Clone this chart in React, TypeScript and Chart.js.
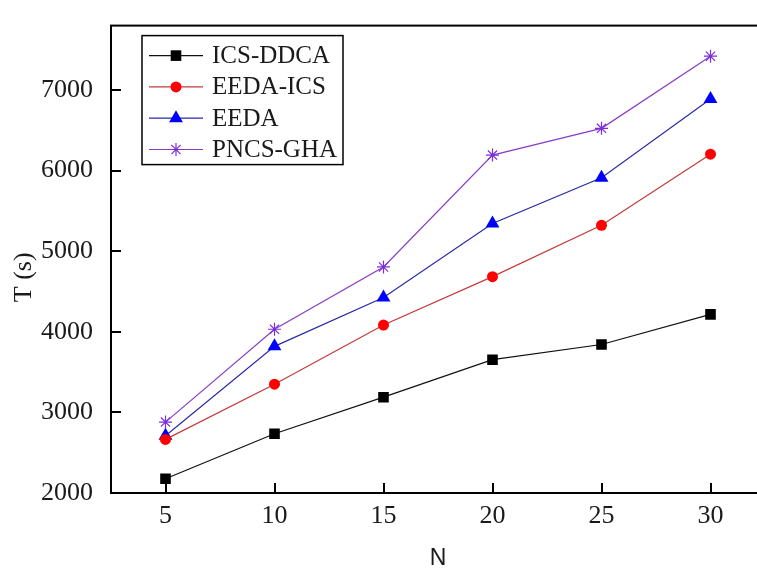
import React, { useEffect, useRef } from "react";
import { Chart, registerables } from "chart.js";

Chart.register(...registerables);

const nValues = [5, 10, 15, 20, 25, 30];
const icsDdca = [2177, 2735, 3189, 3654, 3843, 4217];
const eedaIcs = [2665, 3350, 4084, 4685, 5322, 6205];
const eeda = [2710, 3820, 4425, 5345, 5912, 6890];
const pncsGha = [2880, 4032, 4805, 6193, 6525, 7420];
const seriesLabels = ["ICS-DDCA", "EEDA-ICS", "EEDA", "PNCS-GHA"];
const xTickValues = [5, 10, 15, 20, 25, 30];
const yTickValues = [2000, 3000, 4000, 5000, 6000, 7000];
const xTitle = "N";
const yTitle = "T (s)";

function drawMarker(ctx: CanvasRenderingContext2D, style: string, x: number, y: number, r: number, color: string) {
  ctx.save();
  ctx.fillStyle = color;
  ctx.strokeStyle = color;
  ctx.lineWidth = 1.2;
  ctx.beginPath();
  if (style === "rect") {
    const s = r * Math.SQRT1_2;
    ctx.rect(x - s, y - s, 2 * s, 2 * s);
    ctx.fill();
  } else if (style === "circle") {
    ctx.arc(x, y, r, 0, Math.PI * 2);
    ctx.fill();
  } else if (style === "triangle") {
    for (let i = 0; i < 3; i++) {
      const a = -Math.PI / 2 + (i * 2 * Math.PI) / 3;
      const px = x + Math.cos(a) * r;
      const py = y + Math.sin(a) * r;
      if (i === 0) ctx.moveTo(px, py);
      else ctx.lineTo(px, py);
    }
    ctx.closePath();
    ctx.fill();
  } else if (style === "star") {
    for (let i = 0; i < 4; i++) {
      const a = (i * Math.PI) / 4;
      ctx.moveTo(x - Math.cos(a) * r, y - Math.sin(a) * r);
      ctx.lineTo(x + Math.cos(a) * r, y + Math.sin(a) * r);
    }
    ctx.stroke();
  }
  ctx.restore();
}

const framePlugin = {
  id: "frameAndLegend",
  afterDraw(chart: any) {
    const { ctx, chartArea: a, scales } = chart;
    ctx.save();
    ctx.strokeStyle = "#000";
    ctx.lineWidth = 2;
    ctx.strokeRect(a.left, a.top, a.right - a.left, a.bottom - a.top);
    ctx.beginPath();
    scales.x.ticks.forEach((t: any) => {
      const px = Math.round(scales.x.getPixelForValue(t.value));
      ctx.moveTo(px, a.bottom);
      ctx.lineTo(px, a.bottom - 10);
    });
    scales.y.ticks.forEach((t: any) => {
      const py = Math.round(scales.y.getPixelForValue(t.value));
      ctx.moveTo(a.left, py);
      ctx.lineTo(a.left + 10, py);
    });
    ctx.stroke();

    // y-axis title
    ctx.save();
    ctx.translate(24, (a.top + a.bottom) / 2 + 18);
    ctx.rotate(-Math.PI / 2);
    ctx.font = "26px 'Liberation Serif', serif";
    ctx.fillStyle = "#1a1a1a";
    ctx.textAlign = "center";
    ctx.textBaseline = "middle";
    ctx.fillText(yTitle, 0, 0);
    ctx.restore();

    // legend box
    const bx = a.left + 31;
    const by = a.top + 10;
    const bw = 201;
    const bh = 129;
    ctx.fillStyle = "#fff";
    ctx.fillRect(bx, by, bw, bh);
    ctx.lineWidth = 1.5;
    ctx.strokeStyle = "#000";
    ctx.strokeRect(bx, by, bw, bh);
    ctx.font = "25px 'Liberation Serif', serif";
    ctx.textBaseline = "middle";
    ctx.textAlign = "left";
    chart.data.datasets.forEach((ds: any, i: number) => {
      const yy = by + 20 + i * 31.3;
      ctx.strokeStyle = ds.borderColor;
      ctx.lineWidth = 1.2;
      ctx.beginPath();
      ctx.moveTo(bx + 7, yy);
      ctx.lineTo(bx + 61, yy);
      ctx.stroke();
      drawMarker(ctx, ds.pointStyle, bx + 34, yy, ds.pointRadius, ds.pointBackgroundColor);
      ctx.fillStyle = "#1a1a1a";
      ctx.fillText(ds.label, bx + 70, yy + 1);
    });
    ctx.restore();
  },
};

export default function App() {
  const ref = useRef<HTMLCanvasElement>(null);
  useEffect(() => {
    if (!ref.current) return;
    const mk = (label: string, data: number[], line: string, pt: string, style: string, r: number) => ({
      label,
      data: nValues.map((n, i) => ({ x: n, y: data[i] })),
      borderColor: line,
      borderWidth: 1.2,
      pointBackgroundColor: pt,
      pointBorderColor: pt,
      pointBorderWidth: style === "star" ? 1.2 : 0,
      pointStyle: style,
      pointRadius: r,
      pointHoverRadius: r,
      tension: 0,
    });
    const chart = new Chart(ref.current, {
      type: "line",
      data: {
        datasets: [
          mk(seriesLabels[0], icsDdca, "#111111", "#000000", "rect", 7.5),
          mk(seriesLabels[1], eedaIcs, "#c43a3a", "#ff0000", "circle", 5.5),
          mk(seriesLabels[2], eeda, "#2a2aa8", "#0000ff", "triangle", 8),
          mk(seriesLabels[3], pncsGha, "#8a3cc8", "#7a2ee0", "star", 6.5),
        ],
      },
      options: {
        animation: false,
        responsive: false,
        layout: { padding: { left: 0, top: 11, right: 35, bottom: 0 } },
        plugins: { legend: { display: false }, tooltip: { enabled: false } },
        scales: {
          x: {
            type: "linear",
            min: 2.5,
            max: 32.5,
            grid: { display: false },
            border: { display: false },
            afterBuildTicks: (s: any) => {
              s.ticks = xTickValues.map((v) => ({ value: v }));
            },
            ticks: {
              autoSkip: false,
              padding: 0,
              color: "#1a1a1a",
              font: { family: "'Liberation Serif', serif", size: 26 },
              maxRotation: 0,
              callback: (v: any) => String(v),
            },
            title: {
              display: true,
              text: xTitle,
              color: "#1a1a1a",
              font: { family: "'Liberation Sans', sans-serif", size: 23 },
              padding: { top: 0, bottom: -3 },
            },
            afterFit: (s: any) => {
              s.height = 76;
            },
          },
          y: {
            type: "linear",
            min: 2000,
            max: 7800,
            grid: { display: false },
            border: { display: false },
            afterBuildTicks: (s: any) => {
              s.ticks = yTickValues.map((v) => ({ value: v }));
            },
            ticks: {
              autoSkip: false,
              padding: 10,
              color: "#1a1a1a",
              font: { family: "'Liberation Serif', serif", size: 26 },
              callback: (v: any) => String(v),
            },
            title: { display: false },
            afterFit: (s: any) => {
              s.width = 111;
            },
          },
        },
      },
      plugins: [framePlugin],
    } as any);
    return () => chart.destroy();
  }, []);
  return (
    <div style={{ position: "absolute", left: 0, top: 0, width: 757, height: 569, overflow: "hidden", background: "#fff" }}>
      <canvas ref={ref} width={800} height={569} style={{ display: "block" }} />
    </div>
  );
}
